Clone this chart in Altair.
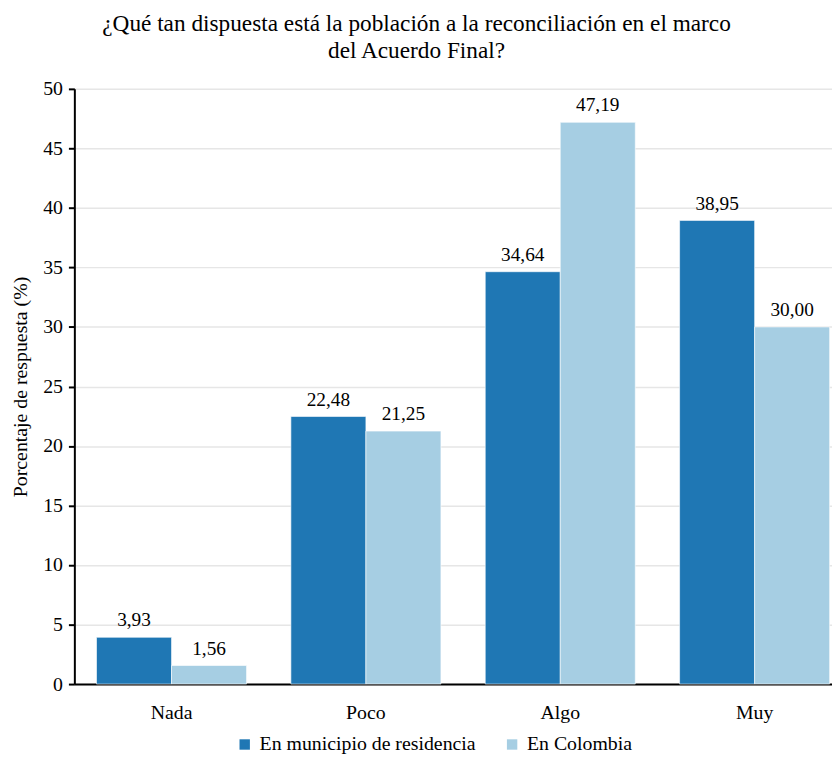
import altair as alt
import pandas as pd

categories = ["Nada", "Poco", "Algo", "Muy"]
series = ["En municipio de residencia", "En Colombia"]
municipio = [3.93, 22.48, 34.64, 38.95]
colombia = [1.56, 21.25, 47.19, 30.00]
colors = ["#1f77b4", "#a6cee3"]
y_ticks = [0, 5, 10, 15, 20, 25, 30, 35, 40, 45, 50]

rows = []
for c, m, k in zip(categories, municipio, colombia):
    rows.append({"cat": c, "serie": series[0], "value": m})
    rows.append({"cat": c, "serie": series[1], "value": k})
df = pd.DataFrame(rows)

FONT = "Liberation Serif, Times New Roman, serif"

base = alt.Chart(df).transform_calculate(
    label="replace(format(datum.value, '.2f'), '.', ',')"
)

x = alt.X("cat:N", sort=categories, title=None,
          scale=alt.Scale(range=[0, 785], paddingInner=0.228, paddingOuter=0.114),
          axis=alt.Axis(labelAngle=0, labelFontSize=20, labelFont=FONT, labelColor="black",
                        labelPadding=19, ticks=False, domainColor="black", domainWidth=2,
                        grid=False))
xo = alt.XOffset("serie:N", sort=series)
y = alt.Y("value:Q", title="Porcentaje de respuesta (%)",
          scale=alt.Scale(domain=[0, 50], nice=False),
          axis=alt.Axis(values=y_ticks, labelFontSize=20, labelFont=FONT, labelColor="black",
                        titleFontSize=20, titleFont=FONT, titleFontWeight="normal",
                        titleColor="black", titlePadding=12,
                        domainColor="black", domainWidth=2, tickColor="black",
                        tickWidth=2, tickSize=6, labelPadding=6,
                        gridColor="#e6e6e6", gridWidth=1.5))

bars = base.mark_bar(stroke="white", strokeWidth=0.6).encode(
    x=x, xOffset=xo, y=y,
    color=alt.Color("serie:N", sort=series,
                    scale=alt.Scale(domain=series, range=colors),
                    legend=alt.Legend(title=None, orient="none", direction="horizontal",
                                      legendX=162, legendY=652,
                                      symbolType="square", symbolSize=110,
                                      symbolStrokeWidth=0, labelOffset=5,
                                      columnPadding=26)),
)

text = base.mark_text(baseline="bottom", dy=-7, font=FONT, fontSize=19.5, color="black").encode(
    x=x, xOffset=xo, y=y, text="label:N"
)

chart = alt.layer(bars, text).properties(
    width=765, height=601,
    autosize=alt.AutoSizeParams(type="none"),
    padding={"left": 67, "top": 78, "right": 0, "bottom": 72},
    title=alt.TitleParams(
        text=["¿Qué tan dispuesta está la población a la reconciliación en el marco",
              "del Acuerdo Final?"],
        anchor="middle", dx=-37, offset=17),
).configure_view(stroke=None).configure_axis(
    labelFontWeight="normal"
).configure_title(
    font=FONT, fontSize=23.5, fontWeight="normal", color="black", lineHeight=27
).configure_legend(
    labelFont=FONT, labelFontSize=20, labelColor="black", labelLimit=0
)

chart.save("out.html", embed_options={"renderer": "svg", "actions": False})
